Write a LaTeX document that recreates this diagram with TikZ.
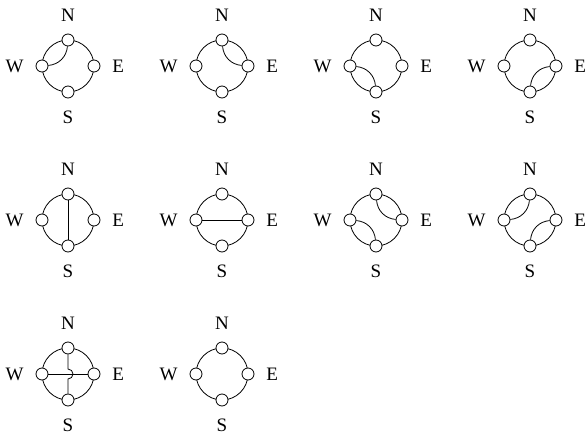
\documentclass[tikz,border=0pt]{standalone}
\usepackage{fontspec}
\setmainfont{Liberation Serif}
\begin{document}
\begin{tikzpicture}[x=0.5pt,y=-0.5pt,every label/.style={font=\fontsize{9.5}{11}\selectfont},vrtx/.style args = {#1/#2}{circle, draw, fill=white, inner sep=0pt, minimum size=6pt, label={[label distance=2.5pt]#1:#2}}]
\useasboundingbox (0,0) rectangle (585,439);
\foreach \i/\x/\y in {1/68/66,2/222/66,3/376/66,4/530/66,5/68/220,6/222/220,7/376/220,8/530/220,9/68/374,10/222/374}{
\draw (\x,\y) circle[radius=26];
\node (N\i) [vrtx=above/N] at (\x,\y-26) {};
\node (E\i) [vrtx=right/E] at (\x+26,\y) {};
\node (S\i) [vrtx=below/S] at (\x,\y+26) {};
\node (W\i) [vrtx=left/W] at (\x-26,\y) {};
}
\foreach \from/\to in {W1/N1,N2/E2,S3/W3,E4/S4,N7/E7,S7/W7,W8/N8,E8/S8}
\draw (\from) to[bend right=40] (\to);
\foreach \from/\to in {N5/S5,W6/E6,W9/E9}
\draw (\from) -- (\to);
\coordinate (h9) at (68,369);
\draw (N9) -- (h9) arc[start angle=-90,end angle=90,radius=5] -- (S9);
\end{tikzpicture}
\end{document}
